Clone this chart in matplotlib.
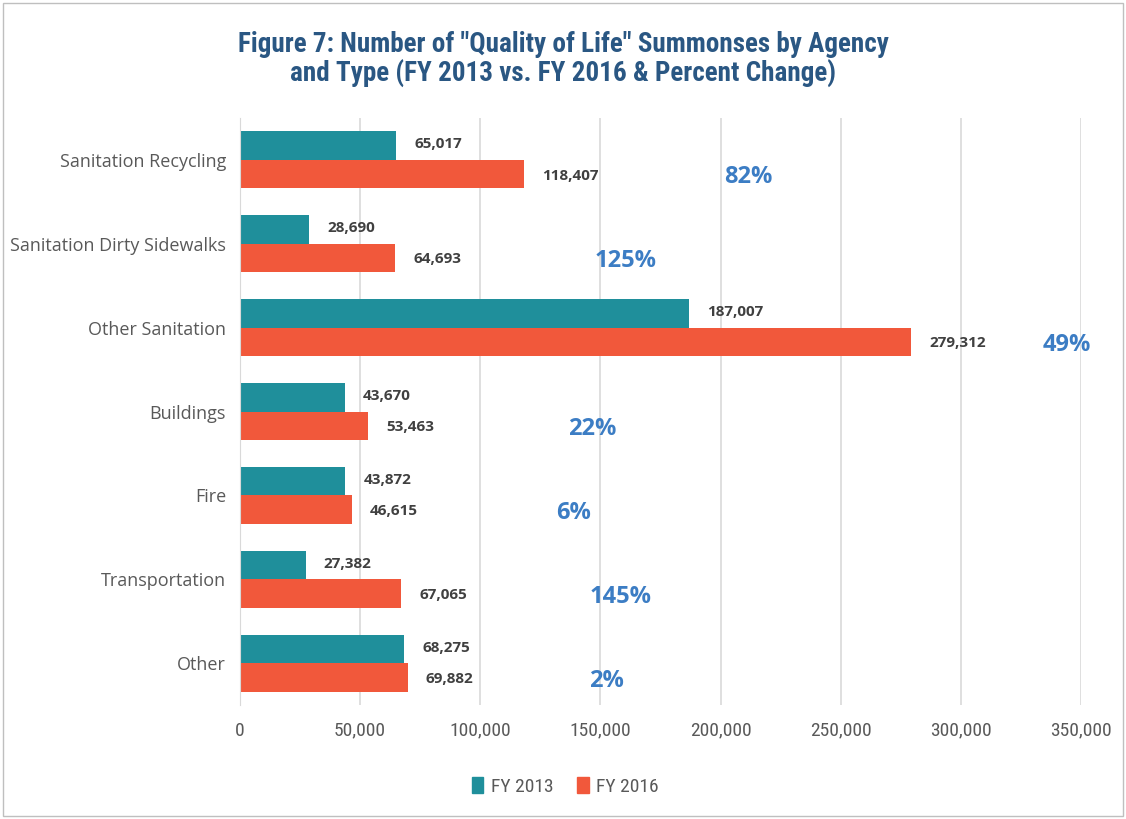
import numpy as np
import matplotlib
matplotlib.use('Agg')
import matplotlib.pyplot as plt
from matplotlib import font_manager
from matplotlib.patches import Rectangle, Patch

categories = ['Sanitation Recycling', 'Sanitation Dirty Sidewalks', 'Other Sanitation',
              'Buildings', 'Fire', 'Transportation', 'Other']
fy2013 = [65017, 28690, 187007, 43670, 43872, 27382, 68275]
fy2016 = [118407, 64693, 279312, 53463, 46615, 67065, 69882]
# where the percent-change labels sit along the x axis
pct_x = [211700, 160400, 344200, 146700, 138700, 158300, 152500]

teal = '#1F8F9B'
orange = '#F1583B'
grey_txt = '#595959'

# pick a narrow font if there is one
names = set(f.name for f in font_manager.fontManager.ttflist)
narrow = 'DejaVu Sans'
for cand in ['Liberation Sans Narrow', 'Roboto Condensed', 'Open Sans Condensed', 'DejaVu Sans Condensed']:
    if cand in names:
        narrow = cand
        break
has_cond = any(f.name == 'DejaVu Sans' and f.stretch == 'condensed' for f in font_manager.fontManager.ttflist)

fig = plt.figure(figsize=(11.26, 8.19), dpi=100)
ax = fig.add_axes([0.2131, 0.139, 0.7469, 0.717])

y = np.arange(len(categories))
h = 0.34
ax.barh(y - h / 2, fy2013, height=h, color=teal, label='FY 2013', zorder=3)
ax.barh(y + h / 2, fy2016, height=h, color=orange, label='FY 2016', zorder=3)

for i in range(len(categories)):
    ax.annotate('{:,}'.format(fy2013[i]), (fy2013[i], y[i] - h / 2), xytext=(13, 1),
                textcoords='offset points', va='center', ha='left',
                fontsize=11, fontweight='bold', color='#404040', family='Open Sans')
    ax.annotate('{:,}'.format(fy2016[i]), (fy2016[i], y[i] + h / 2), xytext=(13, -1),
                textcoords='offset points', va='center', ha='left',
                fontsize=11, fontweight='bold', color='#404040', family='Open Sans')
    pct = round((fy2016[i] / fy2013[i] - 1) * 100)
    ax.text(pct_x[i], y[i] + 0.21, '%d%%' % pct, ha='center', va='center',
            fontsize=17, fontweight='bold', color='#3C7DC4', family='Open Sans')

ax.set_xlim(0, 350000)
ax.set_ylim(6.5, -0.5)
ax.set_yticks(y)
ax.set_yticklabels(categories, fontsize=13, color=grey_txt, family='Open Sans')
xt = np.arange(0, 350001, 50000)
ax.set_xticks(xt)
ax.set_xticklabels(['{:,}'.format(v) for v in xt], fontsize=14, color=grey_txt,
                   family=narrow, stretch='condensed')
ax.tick_params(axis='both', length=0)
ax.tick_params(axis='x', pad=12)
ax.tick_params(axis='y', pad=10)
ax.grid(axis='x', color='#D9D9D9', linewidth=1.2, zorder=0)
for s in ['top', 'right', 'bottom']:
    ax.spines[s].set_visible(False)
ax.spines['left'].set_color('#D9D9D9')
ax.spines['left'].set_zorder(4)

title = 'Figure 7: Number of "Quality of Life" Summonses by Agency\nand Type (FY 2013 vs. FY 2016 & Percent Change)'
if narrow != 'DejaVu Sans' or has_cond:
    tsize = 19.5
else:
    tsize = 14.5
fig.text(0.5, 0.927, title, ha='center', va='center', fontsize=tsize, fontweight='bold',
         color='#2A5783', family=narrow, stretch='condensed', linespacing=1.1)

handles = [Patch(color=teal, label='FY 2013'), Patch(color=orange, label='FY 2016')]
leg = fig.legend(handles=handles, loc='center', bbox_to_anchor=(0.502, 0.04), ncol=2,
                 frameon=False, handlelength=0.6, handleheight=0.9, handletextpad=0.4,
                 columnspacing=1.2,
                 prop={'family': narrow, 'stretch': 'condensed', 'size': 14})
for t in leg.get_texts():
    t.set_color(grey_txt)

fig.patches.append(Rectangle((0.003, 0.004), 0.994, 0.992, transform=fig.transFigure,
                             fill=False, edgecolor='#BFBFBF', linewidth=1))

fig.savefig('out.png', dpi=100)
